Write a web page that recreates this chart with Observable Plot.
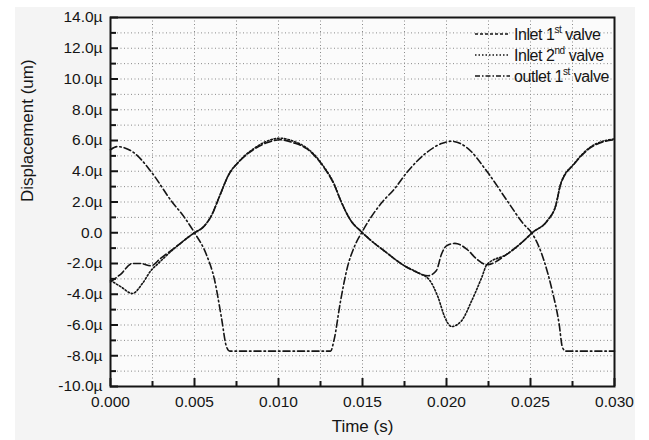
<!DOCTYPE html>
<html><head><meta charset="utf-8">
<script src="https://cdn.jsdelivr.net/npm/d3@7"></script>
<script src="https://cdn.jsdelivr.net/npm/@observablehq/plot@0.6"></script>
<style>
body{margin:0;background:#fff;}
#bg{position:absolute;left:15px;top:7px;width:620px;height:433px;background:#f4f4f4;}
#chart{position:absolute;left:0;top:0;}
</style></head><body>
<div id="bg"></div><div id="chart"></div>
<script>
// ---- data ----
const timeInlet1 = [0, 0.0006, 0.0013, 0.0018, 0.0024, 0.003, 0.004, 0.005, 0.0055, 0.006, 0.0065, 0.007, 0.0077, 0.0085, 0.0093, 0.0101, 0.0109, 0.0117, 0.0127, 0.0133, 0.0137, 0.0143, 0.0149, 0.0155, 0.0162, 0.0175, 0.0183, 0.0189, 0.0194, 0.0197, 0.0200, 0.0205, 0.0212, 0.0218, 0.0224, 0.0236, 0.0246, 0.0251, 0.0260, 0.0265, 0.0268, 0.0276, 0.0286, 0.0293, 0.0300];
const inlet1 = [-3.2, -2.7, -2.0, -2.0, -2.15, -1.65, -0.83, 0.0, 0.35, 1.1, 2.4, 3.7, 4.68, 5.4, 5.85, 6.05, 5.85, 5.45, 4.25, 3.16, 2.1, 0.8, 0.1, -0.5, -1.1, -2.15, -2.6, -2.8, -2.45, -1.4, -0.85, -0.69, -1.06, -1.71, -2.08, -1.39, -0.52, 0.0, 0.78, 1.76, 3.16, 4.47, 5.55, 5.9, 6.05];

const timeInlet2 = [0, 0.0006, 0.0013, 0.0019, 0.0024, 0.0028, 0.004, 0.005, 0.0055, 0.006, 0.0065, 0.007, 0.0077, 0.0085, 0.0093, 0.0101, 0.0109, 0.0117, 0.0127, 0.0133, 0.0137, 0.0143, 0.0149, 0.0155, 0.0162, 0.0175, 0.0183, 0.0190, 0.0195, 0.0199, 0.0203, 0.0209, 0.0215, 0.0221, 0.0224, 0.0236, 0.0246, 0.0251, 0.0260, 0.0265, 0.0268, 0.0276, 0.0286, 0.0293, 0.0300];
const inlet2 = [-3.1, -3.5, -3.95, -3.3, -2.47, -2.04, -0.83, 0.0, 0.35, 1.1, 2.4, 3.7, 4.7, 5.45, 5.95, 6.15, 5.95, 5.5, 4.3, 3.2, 2.1, 0.8, 0.1, -0.5, -1.1, -2.15, -2.6, -3.1, -4.2, -5.5, -6.1, -5.72, -4.42, -2.9, -2.08, -1.39, -0.52, 0.0, 0.78, 1.76, 3.2, 4.5, 5.6, 5.95, 6.1];

const timeOutlet = [0, 0.0004, 0.0014, 0.0024, 0.0036, 0.0044, 0.005, 0.0057, 0.0062, 0.0066, 0.0069, 0.0071, 0.0131, 0.0133, 0.0137, 0.0141, 0.0145, 0.0150, 0.0161, 0.0169, 0.0177, 0.0188, 0.0197, 0.0203, 0.0212, 0.0224, 0.0236, 0.0246, 0.0251, 0.0258, 0.0263, 0.0267, 0.0269, 0.0271, 0.0300];
const outlet = [5.4, 5.6, 5.2, 4.0, 2.1, 1.0, 0.0, -1.4, -3.1, -5.5, -7.4, -7.7, -7.7, -7.0, -4.4, -2.25, -0.95, 0.1, 1.9, 2.85, 4.0, 5.2, 5.8, 5.95, 5.55, 4.0, 2.1, 0.55, -0.05, -1.8, -3.8, -5.9, -7.45, -7.7, -7.7];

const seriesNames = ["Inlet 1st valve", "Inlet 2nd valve", "outlet 1st valve"];
const legendParts = [["Inlet 1", "st", " valve"], ["Inlet 2", "nd", " valve"], ["outlet 1", "st", " valve"]];
const xMajorTicks = [0, 0.005, 0.01, 0.015, 0.02, 0.025, 0.03];
const xMinorTicks = [0.0025, 0.0075, 0.0125, 0.0175, 0.0225, 0.0275];
const xGridTicks = [0.0025, 0.005, 0.0075, 0.01, 0.0125, 0.015, 0.0175, 0.02, 0.0225, 0.025, 0.0275];
const yMajorTicks = [-10, -8, -6, -4, -2, 0, 2, 4, 6, 8, 10, 12, 14];
const yMinorTicks = [-9, -7, -5, -3, -1, 1, 3, 5, 7, 9, 11, 13];
const yGridTicks = [-9, -8, -7, -6, -5, -4, -3, -2, -1, 0, 1, 2, 3, 4, 5, 6, 7, 8, 9, 10, 11, 12, 13];
const dashes = ["7,3", "1.5,2", "7,3,1.5,3"];
const legendDashes = ["3,2", "1.5,2", "5,2,1.5,2"];

const series = [
  {name: seriesNames[0], t: timeInlet1, v: inlet1},
  {name: seriesNames[1], t: timeInlet2, v: inlet2},
  {name: seriesNames[2], t: timeOutlet, v: outlet}
];

const W = 649, H = 440, ML = 110, MR = 35, MT = 17, MB = 54;
const PW = W - ML - MR, PH = H - MT - MB;
const ink = "#151515";

const lineMarks = series.map((s, i) => Plot.line(s.t.map((t, j) => ({t, v: s.v[j]})), {
  x: "t", y: "v", stroke: ink, strokeWidth: 1.6, strokeDasharray: dashes[i], curve: "monotone-x"
}));

const chart = Plot.plot({
  width: W, height: H, marginLeft: ML, marginRight: MR, marginTop: MT, marginBottom: MB,
  style: {background: "transparent", fontFamily: "'Liberation Sans', Arial, sans-serif", fontSize: "15px", color: ink},
  x: {domain: [0, 0.03]},
  y: {domain: [-10, 14]},
  marks: [
    Plot.frame({fill: "#fbfbfb"}),
    Plot.gridX(xGridTicks, {stroke: "#8a8a8a", strokeOpacity: 1, strokeDasharray: "1,2.5"}),
    Plot.gridY(yGridTicks, {stroke: "#8a8a8a", strokeOpacity: 1, strokeDasharray: "1,2.5"}),
    ...lineMarks,
    Plot.ruleY(yMajorTicks, {y: d => d, stroke: ink, strokeWidth: 2, insetRight: PW - 8}),
    Plot.ruleY(yMinorTicks, {y: d => d, stroke: ink, strokeWidth: 2, insetRight: PW - 6}),
    Plot.ruleX(xMajorTicks, {x: d => d, stroke: ink, strokeWidth: 2, insetTop: PH - 8}),
    Plot.ruleX(xMinorTicks, {x: d => d, stroke: ink, strokeWidth: 2, insetTop: PH - 5}),
    Plot.axisX(xMajorTicks, {tickSize: 0, tickPadding: 9, tickFormat: d3.format(".3f"), label: null, fontSize: 15.5}),
    Plot.axisY(yMajorTicks, {tickSize: 0, tickPadding: 8, tickFormat: d => d === 0 ? "0.0" : d.toFixed(1) + "µ", label: null, fontSize: 15.5}),
    Plot.frame({stroke: ink, strokeWidth: 2}),
    Plot.text(["Time (s)"], {text: d => d, frameAnchor: "bottom", dy: 45, fontSize: 17, fill: ink}),
    Plot.text(["Displacement (um)"], {text: d => d, frameAnchor: "left", dx: -83, rotate: -90, fontSize: 17, fill: ink})
  ]
});

// legend (inside top-right)
const svg = d3.select(chart);
const lg = svg.append("g").attr("font-family", "'Liberation Sans', Arial, sans-serif").attr("font-size", 16)
  .attr("letter-spacing", -0.45).attr("fill", ink).attr("text-anchor", "start");
legendParts.forEach((parts, i) => {
  const y = 34 + i * 21;
  lg.append("line").attr("x1", 475).attr("x2", 510).attr("y1", y).attr("y2", y)
    .attr("stroke", ink).attr("stroke-width", 1.3).attr("stroke-dasharray", legendDashes[i]);
  const tx = lg.append("text").attr("x", 514).attr("y", y).attr("dy", "0.36em").attr("text-anchor", "start");
  tx.append("tspan").text(parts[0]);
  tx.append("tspan").attr("font-size", 10).attr("dy", -7).text(parts[1]);
  tx.append("tspan").attr("dy", 7).text(parts[2]);
});

document.getElementById("chart").appendChild(chart);
</script>
</body></html>
